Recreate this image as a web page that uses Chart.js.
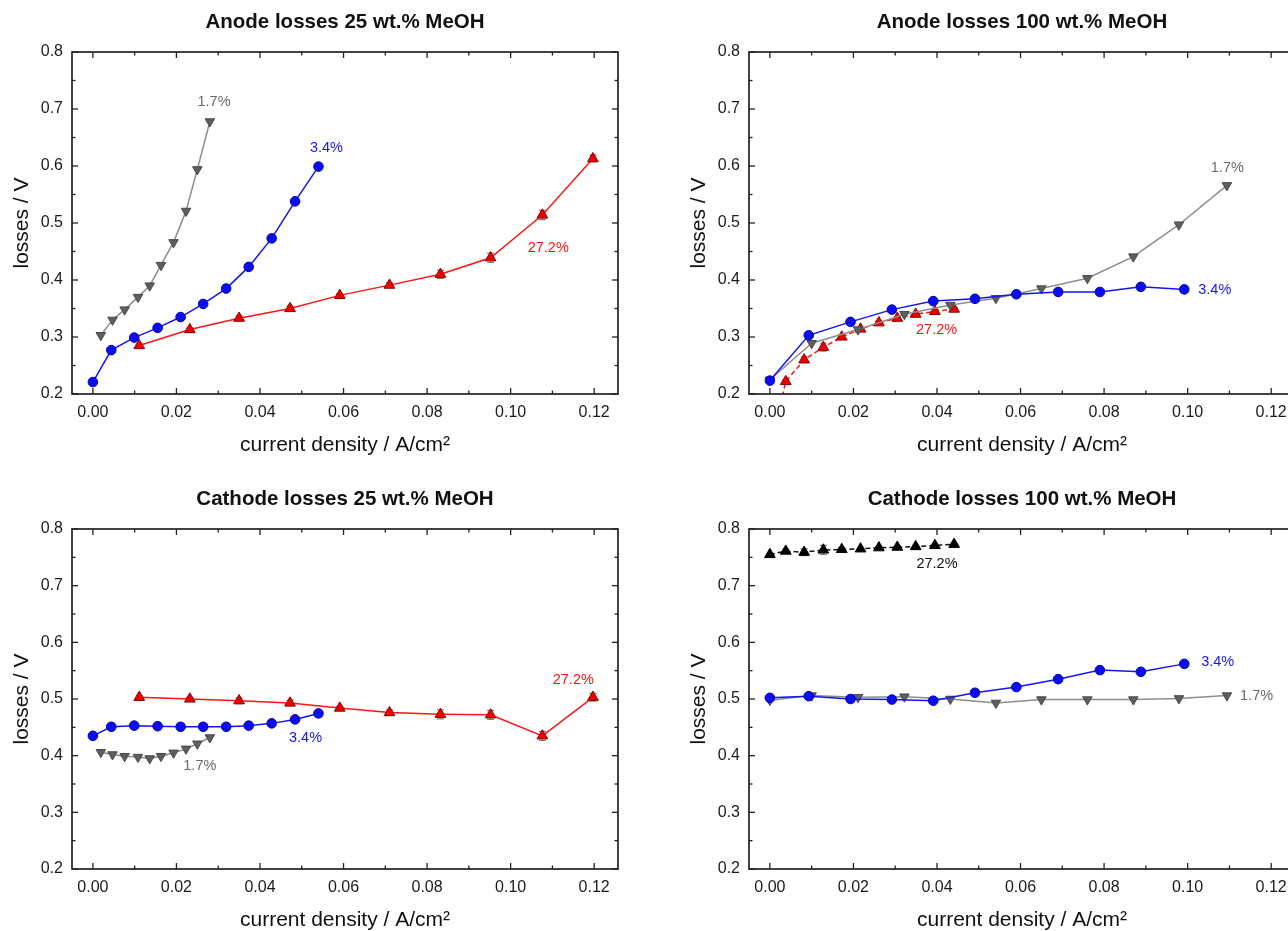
<!DOCTYPE html>
<html>
<head>
<meta charset="utf-8">
<script src="https://cdn.jsdelivr.net/npm/chart.js@4.4.1/dist/chart.umd.min.js"></script>
<style>
  html, body { margin: 0; padding: 0; background: #ffffff; width: 1288px; height: 931px; overflow: hidden; }
  canvas { position: absolute; }
</style>
</head>
<body>
<canvas id="anode25" width="644" height="460" style="left:0px;top:0px"></canvas>
<canvas id="anode100" width="644" height="460" style="left:677px;top:0px"></canvas>
<canvas id="cathode25" width="644" height="455" style="left:0px;top:476px"></canvas>
<canvas id="cathode100" width="644" height="455" style="left:677px;top:476px"></canvas>
<script>
// ---- axis ticks ----
const xTickValues = [0.00, 0.02, 0.04, 0.06, 0.08, 0.10, 0.12];
const xMinorValues = [0.01, 0.03, 0.05, 0.07, 0.09, 0.11];
const yTickValues = [0.2, 0.3, 0.4, 0.5, 0.6, 0.7, 0.8];
const yMinorValues = [0.25, 0.35, 0.45, 0.55, 0.65, 0.75];

// ---- current density (A/cm²), 25 wt.% MeOH ----
const j25_17 = [0.0019, 0.0047, 0.0076, 0.0108, 0.0136, 0.0163, 0.0193, 0.0223, 0.0250, 0.0280];
const j25_34 = [0.0000, 0.0044, 0.0099, 0.0155, 0.0210, 0.0264, 0.0319, 0.0373, 0.0428, 0.0484, 0.0540];
const j25_272 = [0.0111, 0.0232, 0.0350, 0.0472, 0.0591, 0.0710, 0.0832, 0.0952, 0.1076, 0.1197];

// ---- current density (A/cm²), 100 wt.% MeOH ----
const j100_17 = [0.0000, 0.0100, 0.0211, 0.0322, 0.0432, 0.0541, 0.0650, 0.0760, 0.0870, 0.0979, 0.1094];
const j100_34 = [0.0000, 0.0093, 0.0193, 0.0292, 0.0391, 0.0491, 0.0590, 0.0690, 0.0790, 0.0888, 0.0992];
const j100_272 = [0.0000, 0.0038, 0.0082, 0.0128, 0.0172, 0.0217, 0.0261, 0.0305, 0.0349, 0.0395, 0.0441];

// ---- anode losses (V), 25 wt.% ----
const anode25_17 = [0.303, 0.330, 0.348, 0.370, 0.390, 0.426, 0.466, 0.521, 0.594, 0.678];
const anode25_34 = [0.221, 0.277, 0.299, 0.316, 0.335, 0.358, 0.385, 0.423, 0.473, 0.538, 0.599];
const anode25_272 = [0.285, 0.313, 0.333, 0.350, 0.373, 0.391, 0.410, 0.439, 0.514, 0.613];
const anode25_272_err = [0.003, 0.003, 0.004, 0.004, 0.003, 0.004, 0.007, 0.008, 0.008, 0.006];

// ---- anode losses (V), 100 wt.% ----
const anode100_17 = [0.225, 0.289, 0.313, 0.340, 0.356, 0.368, 0.385, 0.403, 0.441, 0.497, 0.566];
const anode100_34 = [0.2235, 0.303, 0.3265, 0.348, 0.363, 0.367, 0.375, 0.379, 0.379, 0.388, 0.3835];
const anode100_272 = [0.100, 0.222, 0.260, 0.282, 0.300, 0.314, 0.325, 0.333, 0.340, 0.345, 0.349];
const anode100_272_err = [0.002, 0.003, 0.005, 0.007, 0.004, 0.003, 0.003, 0.003, 0.003, 0.003, 0.003];

// ---- cathode losses (V), 25 wt.% ----
const cathode25_17 = [0.406, 0.402, 0.399, 0.3975, 0.395, 0.399, 0.405, 0.412, 0.421, 0.432];
const cathode25_34 = [0.435, 0.451, 0.453, 0.452, 0.451, 0.451, 0.451, 0.453, 0.457, 0.464, 0.4745];
const cathode25_272 = [0.503, 0.500, 0.497, 0.493, 0.484, 0.476, 0.473, 0.472, 0.435, 0.503];
const cathode25_272_err = [0.003, 0.003, 0.005, 0.005, 0.003, 0.005, 0.008, 0.008, 0.008, 0.007];

// ---- cathode losses (V), 100 wt.% ----
const cathode100_17 = [0.498, 0.506, 0.503, 0.504, 0.500, 0.493, 0.499, 0.499, 0.499, 0.501, 0.506];
const cathode100_34 = [0.502, 0.505, 0.500, 0.499, 0.497, 0.511, 0.521, 0.535, 0.551, 0.548, 0.562];
const cathode100_272 = [0.755, 0.761, 0.759, 0.763, 0.764, 0.765, 0.767, 0.768, 0.769, 0.771, 0.773];
const cathode100_272_err = [0.002, 0.003, 0.006, 0.008, 0.003, 0.002, 0.002, 0.002, 0.002, 0.002, 0.002];

// ---- texts ----
const panelTitles = ['Anode losses 25 wt.% MeOH', 'Anode losses 100 wt.% MeOH',
                     'Cathode losses 25 wt.% MeOH', 'Cathode losses 100 wt.% MeOH'];
const xAxisTitle = 'current density / A/cm\u00B2';
const yAxisTitle = 'losses / V';
const seriesNames = ['1.7%', '3.4%', '27.2%'];

const FONT = 'Arial, "Liberation Sans", Helvetica, sans-serif';
const X_MIN = -0.005, X_MAX = 0.1257;
const Y_MIN = 0.2, Y_MAX = 0.8;

const pts = (xs, ys) => xs.map((x, i) => ({ x: x, y: ys[i] }));

const STYLE = {
  gray:  { line: '#8d8d8d', fill: '#5e5e5e', edge: '#4a4a4a', shape: 'triangle', rot: 180, r: 5.5 },
  blue:  { line: '#1414f2', fill: '#0c0cf0', edge: '#0000b8', shape: 'circle', rot: 0, r: 4.8 },
  red:   { line: '#ff1414', fill: '#ee0000', edge: '#8c0000', shape: 'triangle', rot: 0, r: 6.2 },
  black: { line: '#111111', fill: '#000000', edge: '#000000', shape: 'triangle', rot: 0, r: 6.2 }
};

function series(data, style, extra) {
  const s = STYLE[style];
  return Object.assign({
    data: data,
    showLine: true,
    tension: 0,
    fill: false,
    borderColor: s.line,
    borderWidth: 1.5,
    pointStyle: s.shape,
    pointRotation: s.rot,
    pointRadius: s.r,
    pointHoverRadius: s.r,
    pointBackgroundColor: s.fill,
    pointBorderColor: s.edge,
    pointBorderWidth: 1
  }, extra || {});
}

// Origin-style frame: box, inward ticks on all sides, error bars, titles and series labels
const originFrame = {
  id: 'originFrame',
  beforeDatasetsDraw(chart) {
    const ctx = chart.ctx, ys = chart.scales.y;
    ctx.save();
    ctx.strokeStyle = '#808080';
    ctx.lineWidth = 1.2;
    chart.data.datasets.forEach((ds, i) => {
      if (!ds.errorBars) return;
      const meta = chart.getDatasetMeta(i);
      meta.data.forEach((el, k) => {
        const v = ds.data[k].y, e = ds.errorBars[k];
        if (v < Y_MIN || v > Y_MAX) return;
        const y1 = ys.getPixelForValue(v - e), y2 = ys.getPixelForValue(v + e);
        ctx.beginPath();
        ctx.moveTo(el.x, y1); ctx.lineTo(el.x, y2);
        ctx.moveTo(el.x - 3.5, y1); ctx.lineTo(el.x + 3.5, y1);
        ctx.moveTo(el.x - 3.5, y2); ctx.lineTo(el.x + 3.5, y2);
        ctx.stroke();
      });
    });
    ctx.restore();
  },
  afterDatasetsDraw(chart, args, opts) {
    const ctx = chart.ctx, a = chart.chartArea;
    const xs = chart.scales.x, ys = chart.scales.y;
    ctx.save();
    // series labels
    ctx.font = '14.5px ' + FONT;
    ctx.textAlign = 'center';
    ctx.textBaseline = 'middle';
    (opts.labels || []).forEach(l => {
      ctx.fillStyle = l.color;
      ctx.fillText(l.text, xs.getPixelForValue(l.x), ys.getPixelForValue(l.y));
    });
    // tick marks pointing inward
    ctx.strokeStyle = '#222222';
    ctx.lineWidth = 1.3;
    const tick = (x1, y1, x2, y2) => { ctx.beginPath(); ctx.moveTo(x1, y1); ctx.lineTo(x2, y2); ctx.stroke(); };
    const xMark = (v, len) => {
      const p = xs.getPixelForValue(v);
      tick(p, a.bottom, p, a.bottom - len);
      tick(p, a.top, p, a.top + len);
    };
    const yMark = (v, len) => {
      const p = ys.getPixelForValue(v);
      tick(a.left, p, a.left + len, p);
      tick(a.right, p, a.right - len, p);
    };
    xTickValues.forEach(v => xMark(v, 6));
    xMinorValues.forEach(v => xMark(v, 3.5));
    yTickValues.forEach(v => yMark(v, 6));
    yMinorValues.forEach(v => yMark(v, 3.5));
    // frame
    ctx.lineWidth = 1.7;
    ctx.strokeRect(a.left, a.top, a.right - a.left, a.bottom - a.top);
    ctx.restore();
  },
  afterDraw(chart, args, opts) {
    const ctx = chart.ctx, a = chart.chartArea;
    const cx = (a.left + a.right) / 2, cy = (a.top + a.bottom) / 2;
    ctx.save();
    ctx.fillStyle = '#111111';
    ctx.textAlign = 'center';
    ctx.textBaseline = 'middle';
    ctx.font = 'bold 20.5px ' + FONT;
    ctx.fillText(opts.title, cx, a.top - 29.5);
    ctx.font = '21px ' + FONT;
    ctx.fillText(xAxisTitle, cx, a.bottom + 51);
    ctx.translate(a.left - 50, cy);
    ctx.rotate(-Math.PI / 2);
    ctx.fillText(yAxisTitle, 0, 0);
    ctx.restore();
  }
};

function makePanel(id, title, area, datasets, labels) {
  const canvas = document.getElementById(id);
  const W = canvas.width, H = canvas.height;
  return new Chart(canvas, {
    type: 'scatter',
    data: { datasets: datasets },
    options: {
      responsive: false,
      animation: false,
      devicePixelRatio: 1,
      events: [],
      layout: { padding: { top: area.top, right: W - area.right, left: 0, bottom: 0 } },
      plugins: {
        legend: { display: false },
        tooltip: { enabled: false },
        originFrame: { title: title, labels: labels }
      },
      scales: {
        x: {
          type: 'linear', min: X_MIN, max: X_MAX,
          grid: { display: false, drawTicks: false },
          border: { display: false },
          afterFit: s => { s.height = H - area.bottom; },
          afterBuildTicks: s => { s.ticks = xTickValues.map(v => ({ value: v })); },
          ticks: {
            autoSkip: false, maxRotation: 0, padding: 9,
            color: '#1a1a1a', font: { size: 16, family: FONT },
            callback: v => v.toFixed(2)
          }
        },
        y: {
          type: 'linear', min: Y_MIN, max: Y_MAX,
          grid: { display: false, drawTicks: false },
          border: { display: false },
          afterFit: s => { s.width = area.left; },
          afterBuildTicks: s => { s.ticks = yTickValues.map(v => ({ value: v })); },
          ticks: {
            autoSkip: false, padding: 9,
            color: '#1a1a1a', font: { size: 16, family: FONT },
            callback: v => v.toFixed(1)
          }
        }
      }
    },
    plugins: [originFrame]
  });
}

const topArea = { left: 72, top: 52, right: 618, bottom: 394 };
const bottomArea = { left: 72, top: 53, right: 618, bottom: 393 };

makePanel('anode25', panelTitles[0], topArea, [
  series(pts(j25_34, anode25_34), 'blue'),
  series(pts(j25_272, anode25_272), 'red', { errorBars: anode25_272_err }),
  series(pts(j25_17, anode25_17), 'gray')
], [
  { text: seriesNames[0], x: 0.0290, y: 0.712, color: '#6a6a6a' },
  { text: seriesNames[1], x: 0.0559, y: 0.632, color: '#1414f2' },
  { text: seriesNames[2], x: 0.1090, y: 0.457, color: '#ff1414' }
]);

makePanel('anode100', panelTitles[1], topArea, [
  series(pts(j100_34, anode100_34), 'blue'),
  series(pts(j100_17, anode100_17), 'gray'),
  series(pts(j100_272, anode100_272), 'red', { errorBars: anode100_272_err, borderDash: [5, 3] })
], [
  { text: seriesNames[0], x: 0.1095, y: 0.597, color: '#6a6a6a' },
  { text: seriesNames[1], x: 0.1065, y: 0.383, color: '#1414f2' },
  { text: seriesNames[2], x: 0.0399, y: 0.313, color: '#ff1414' }
]);

makePanel('cathode25', panelTitles[2], bottomArea, [
  series(pts(j25_34, cathode25_34), 'blue'),
  series(pts(j25_272, cathode25_272), 'red', { errorBars: cathode25_272_err }),
  series(pts(j25_17, cathode25_17), 'gray')
], [
  { text: seriesNames[0], x: 0.0256, y: 0.381, color: '#6a6a6a' },
  { text: seriesNames[1], x: 0.0509, y: 0.431, color: '#1414f2' },
  { text: seriesNames[2], x: 0.1150, y: 0.533, color: '#ff1414' }
]);

makePanel('cathode100', panelTitles[3], bottomArea, [
  series(pts(j100_34, cathode100_34), 'blue'),
  series(pts(j100_17, cathode100_17), 'gray'),
  series(pts(j100_272, cathode100_272), 'black', { errorBars: cathode100_272_err, borderDash: [5, 3] })
], [
  { text: seriesNames[0], x: 0.1165, y: 0.506, color: '#6a6a6a' },
  { text: seriesNames[1], x: 0.1072, y: 0.565, color: '#1414f2' },
  { text: seriesNames[2], x: 0.0400, y: 0.738, color: '#111111' }
]);
</script>
</body>
</html>
